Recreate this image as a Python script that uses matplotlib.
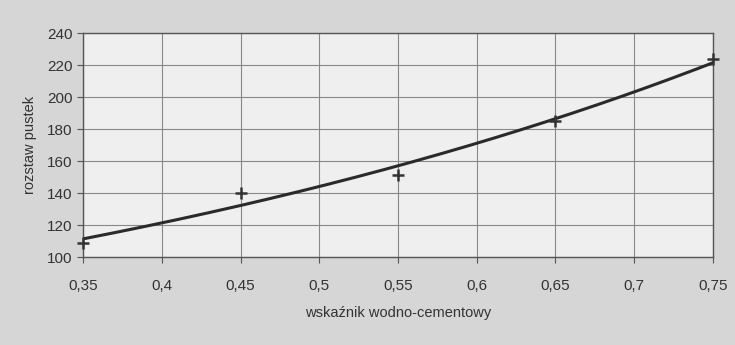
import numpy as np
import matplotlib.pyplot as plt
from matplotlib.ticker import FuncFormatter

# dane pomiarowe
wsk_wc = [0.35, 0.45, 0.55, 0.65, 0.75]
rozstaw = [109, 140, 151, 185, 224]
x_ticks = [0.35, 0.4, 0.45, 0.5, 0.55, 0.6, 0.65, 0.7, 0.75]
y_ticks = [100, 120, 140, 160, 180, 200, 220, 240]

plt.rcParams["font.family"] = ["Liberation Sans", "DejaVu Sans"]

# linia trendu wykładnicza
b, ln_a = np.polyfit(wsk_wc, np.log(rozstaw), 1)
xs = np.linspace(min(wsk_wc), max(wsk_wc), 200)
ys = np.exp(ln_a) * np.exp(b * xs)

fig = plt.figure(figsize=(7.35, 3.45), dpi=100, facecolor="#d6d6d6")
ax = fig.add_axes([0.113, 0.255, 0.857, 0.649])
ax.set_facecolor("#efefef")

ax.plot(xs, ys, color="#2a2a2a", lw=2.2, zorder=3)
ax.scatter(wsk_wc, rozstaw, marker="+", s=70, color="#333333", linewidths=1.8,
           zorder=4, clip_on=False)

ax.set_xlim(0.35, 0.75)
ax.set_ylim(100, 240)
ax.set_xticks(x_ticks)
ax.set_yticks(y_ticks)
ax.xaxis.set_major_formatter(FuncFormatter(lambda v, p: f"{v:g}".replace(".", ",")))
ax.grid(True, color="#888888", lw=0.8)
ax.set_axisbelow(True)
for s in ax.spines.values():
    s.set_color("#555555")
    s.set_linewidth(1.0)
ax.tick_params(colors="#555555", labelcolor="#333333", labelsize=11, length=4)
ax.tick_params(axis="x", pad=12)

ax.set_xlabel("wskaźnik wodno-cementowy", fontsize=10.5, color="#333333", labelpad=9)
ax.set_ylabel("rozstaw pustek", fontsize=10.5, color="#333333", labelpad=7)

fig.savefig("out.png", dpi=100, facecolor=fig.get_facecolor())
